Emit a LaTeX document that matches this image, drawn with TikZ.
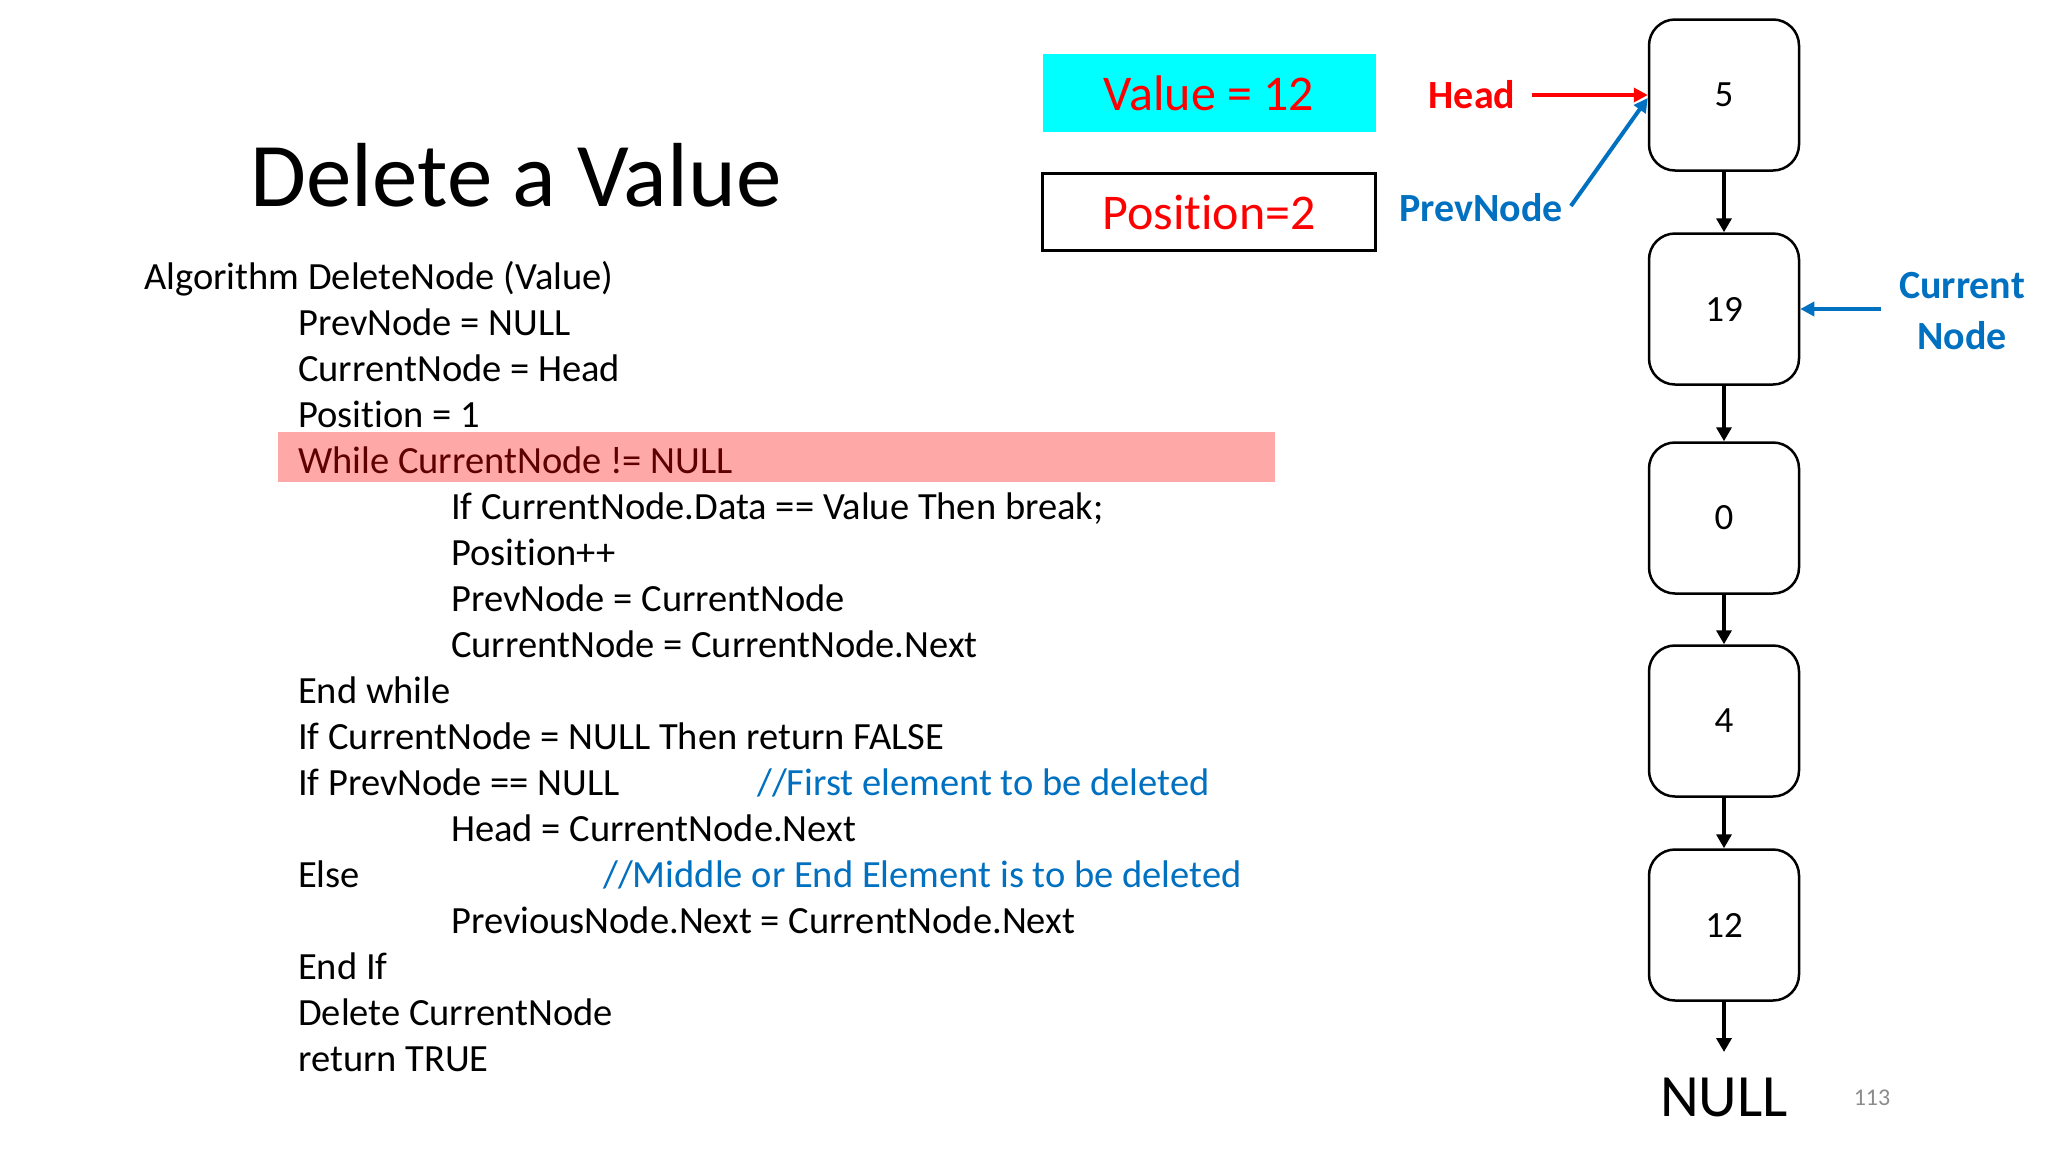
\documentclass[tikz,border=0pt]{standalone}
\usepackage{fontspec}
\setmainfont[Ligatures=NoCommon]{Carlito}
\usetikzlibrary{arrows.meta}
\definecolor{hlred}{HTML}{FF0000}
\definecolor{hlblue}{HTML}{0070C0}
\definecolor{hlcyan}{HTML}{00FFFF}
\definecolor{hlpink}{HTML}{FFA8A8}
\definecolor{hldark}{HTML}{5E0000}
\definecolor{pgray}{HTML}{8C8C8C}
\begin{document}
\begin{tikzpicture}[x=1pt,y=-1pt,
  codeline/.style={anchor=base west, inner sep=0pt, font=\fontsize{38.5}{46}\selectfont},
  comment/.style={codeline, text=hlblue},
  llnode/.style={draw, line width=2.5pt, rounded corners=26pt, minimum width=150pt, minimum height=151pt, inner sep=0pt, font=\fontsize{37}{44}\selectfont},
  link/.style={-{Triangle[length=14pt,width=15pt]}, line width=4pt},
  redarrow/.style={-{Triangle[length=14pt,width=14pt]}, line width=4pt, draw=hlred},
  bluearrow/.style={-{Triangle[length=14pt,width=14pt]}, line width=4pt, draw=hlblue},
  lbl/.style={inner sep=0pt, font=\fontsize{40}{50}\selectfont\bfseries}
]
\useasboundingbox (0,0) rectangle (2048,1152);
\fill[white] (0,0) rectangle (2048,1152);

% title
\node (title) [anchor=base, inner sep=0pt, font=\fontsize{91}{100}\selectfont] at (516,206) {Delete a Value};

% highlight bar
\node (hlbar) [fill=hlpink, anchor=north west, minimum width=997pt, minimum height=50pt, inner sep=0pt] at (278,432) {};

% code
\node (c1) [codeline] at (144,289) {Algorithm DeleteNode (Value)};
\node (c2) [codeline] at (298,335) {PrevNode = NULL};
\node (c3) [codeline] at (298,381) {CurrentNode = Head};
\node (c4) [codeline] at (298,427) {Position = 1};
\node (c5) [codeline, text=hldark] at (298,473) {While CurrentNode != NULL};
\node (c6) [codeline] at (451,519) {If CurrentNode.Data == Value Then break;};
\node (c7) [codeline] at (451,565) {Position++};
\node (c8) [codeline] at (451,611) {PrevNode = CurrentNode};
\node (c9) [codeline] at (451,657) {CurrentNode = CurrentNode.Next};
\node (c10) [codeline] at (298,703) {End while};
\node (c11) [codeline] at (298,749) {If CurrentNode = NULL Then return FALSE};
\node (c12) [codeline] at (298,795) {If PrevNode == NULL};
\node (k12) [comment] at (757,795) {//First element to be deleted};
\node (c13) [codeline] at (451,841) {Head = CurrentNode.Next};
\node (c14) [codeline] at (298,887) {Else};
\node (k14) [comment] at (603,887) {//Middle or End Element is to be deleted};
\node (c15) [codeline] at (451,933) {PreviousNode.Next = CurrentNode.Next};
\node (c16) [codeline] at (298,979) {End If};
\node (c17) [codeline] at (298,1025) {Delete CurrentNode};
\node (c18) [codeline] at (298,1071) {return TRUE};

% value / position boxes
\node (valbox) [fill=hlcyan, minimum width=333pt, minimum height=78pt, inner sep=0pt, text=hlred, font=\fontsize{50}{60}\selectfont] at (1209,93) {Value = 12};
\node (posbox) [draw, line width=2.5pt, fill=white, minimum width=333pt, minimum height=77pt, inner sep=0pt, text=hlred, font=\fontsize{50}{60}\selectfont] at (1209,212) {Position=2};

% linked list
\node (n5) [llnode] at (1724,95) {5};
\node (n19) [llnode] at (1724,309) {19};
\node (n0) [llnode] at (1724,518) {0};
\node (n4) [llnode] at (1724,721) {4};
\node (n12) [llnode] at (1724,925) {12};
\node (null) [inner sep=0pt, font=\fontsize{60}{70}\selectfont] at (1724,1097) {NULL};
\coordinate (nullin) at (1724,1052);

\draw[link] (n5) -- (n19);
\draw[link] (n19) -- (n0);
\draw[link] (n0) -- (n4);
\draw[link] (n4) -- (n12);
\draw[link] (n12) -- (nullin);

% pointers
\node (head) [lbl, text=hlred] at (1472,95) {Head};
\node (prev) [lbl, text=hlblue] at (1481,208) {PrevNode};
\node (cur) [lbl, text=hlblue, align=center, font=\fontsize{40}{51}\selectfont\bfseries] at (1962,311) {Current\\Node};
\coordinate (curtail) at ([xshift=-18pt]cur.west);

\draw[redarrow] ([xshift=16pt]head.east) -- (n5.west);
\draw[bluearrow] ([xshift=8pt,yshift=2pt]prev.east) -- ([yshift=-3pt]n5.west);
\draw[bluearrow] (curtail |- n19.east) -- (n19.east);

% page number
\node (pnum) [inner sep=0pt, text=pgray, font=\fontsize{24}{28}\selectfont] at (1872,1098) {113};
\end{tikzpicture}
\end{document}
